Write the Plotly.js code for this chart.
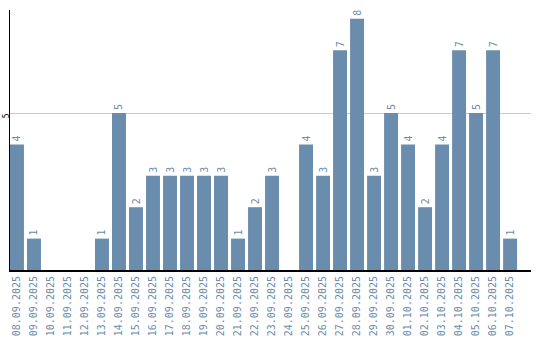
<!DOCTYPE html>
<html><head><meta charset="utf-8">
<script src="https://cdn.plot.ly/plotly-3.0.1.min.js"></script>
<style>body{margin:0;padding:0;background:#fff}#c{width:540px;height:340px}</style>
</head><body><div id="c"></div>
<script>
const dates = ["08.09.2025","09.09.2025","10.09.2025","11.09.2025","12.09.2025","13.09.2025","14.09.2025","15.09.2025","16.09.2025","17.09.2025","18.09.2025","19.09.2025","20.09.2025","21.09.2025","22.09.2025","23.09.2025","24.09.2025","25.09.2025","26.09.2025","27.09.2025","28.09.2025","29.09.2025","30.09.2025","01.10.2025","02.10.2025","03.10.2025","04.10.2025","05.10.2025","06.10.2025","07.10.2025"];
const counts = [4,1,0,0,0,1,5,2,3,3,3,3,3,1,2,3,0,4,3,7,8,3,5,4,2,4,7,5,7,1];
const yTicks = [5];
const barColor = "#6a8cad";
const labels = counts.map(v => v > 0 ? String(v) : "");
Plotly.newPlot("c", [{
  type: "bar", x: dates, y: counts, text: labels, textposition: "outside",
  textangle: -90, cliponaxis: false, constraintext: "none",
  textfont: {family: "DejaVu Sans Mono", size: 10, color: barColor},
  marker: {color: barColor}, width: 0.82, hoverinfo: "none"
}], {
  width: 540, height: 340,
  margin: {l: 10, r: 9, t: 10, b: 70, pad: 0},
  paper_bgcolor: "#fff", plot_bgcolor: "#fff",
  showlegend: false,
  xaxis: {type: "category", range: [-0.41, 30.23], tickangle: -90,
    tickfont: {family: "DejaVu Sans Mono", size: 10, color: barColor},
    showline: true, linecolor: "#000", linewidth: 2, ticks: "", showgrid: false},
  yaxis: {range: [0, 8.28], tickmode: "array", tickvals: yTicks, ticktext: yTicks.map(String),
    tickangle: -90, ticklabelstandoff: -3, ticklabelshift: 4,
    showline: true, linecolor: "#000", linewidth: 1,
    gridcolor: "#cccccc", zeroline: false, ticks: "",
    tickfont: {family: "DejaVu Sans Mono", size: 8, color: "#000"}}
}, {staticPlot: true});
</script></body></html>
